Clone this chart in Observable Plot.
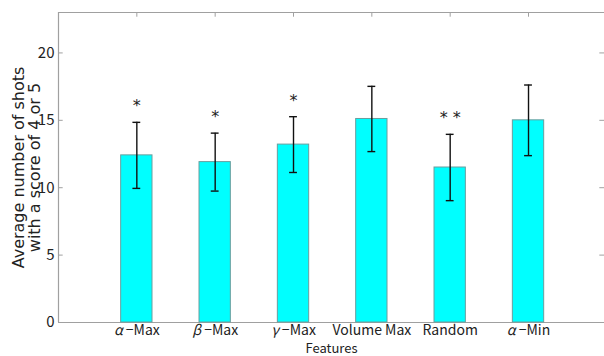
<!DOCTYPE html>
<html>
<head>
<meta charset="utf-8">
<script src="https://cdn.jsdelivr.net/npm/d3@7"></script>
<script src="https://cdn.jsdelivr.net/npm/@observablehq/plot@0.6"></script>
<style>
html, body { margin: 0; padding: 0; overflow: hidden; background: #fff; }
</style>
</head>
<body>
<div id="chart"></div>
<script>
const categories = ["α −Max", "β −Max", "γ −Max", "Volume Max", "Random", "α −Min"];
const means = [12.4, 11.9, 13.2, 15.1, 11.5, 15.0];
const errors = [2.45, 2.15, 2.07, 2.42, 2.46, 2.62];
const significance = ["*", "*", "*", "", "* *", ""];
const yTicks = [0, 5, 10, 15, 20];
const yLabelLines = ["Average number of shots", "with a score of 4 or 5"];
const xLabel = "Features";

const data = categories.map((c, k) => ({
  i: k + 1, cat: c, mean: means[k], err: errors[k], sig: significance[k]
}));

const font = "'Noto Sans CJK JP', 'Noto Sans', sans-serif";
const axisGray = "#a0a0a0";

const chart = Plot.plot({
  width: 604,
  height: 356,
  marginLeft: 58,
  marginRight: 0,
  marginTop: 12,
  marginBottom: 34,
  style: { fontFamily: font, fontSize: "14px", color: "#222", background: "#fff" },
  x: { type: "linear", domain: [0, 6.97] },
  y: { domain: [0, 23] },
  marks: [
    Plot.ruleY([0], { stroke: axisGray, strokeWidth: 1.2 }),
    Plot.ruleY([23], { stroke: axisGray, strokeWidth: 1.2 }),
    Plot.ruleX([0], { stroke: axisGray, strokeWidth: 1.2 }),
    Plot.ruleY(yTicks, { x1: 0, x2: 0.06, stroke: axisGray }),
    Plot.ruleY(yTicks, { x1: 6.91, x2: 6.97, stroke: axisGray }),
    Plot.ruleX(data, { x: "i", y1: 23, y2: 22.65, stroke: axisGray }),
    Plot.rect(data, {
      x1: d => d.i - 0.2, x2: d => d.i + 0.2, y1: 0, y2: "mean",
      fill: "#00ffff", stroke: "#6a9e9e", strokeWidth: 1
    }),
    Plot.ruleX(data, { x: "i", y1: d => d.mean - d.err, y2: d => d.mean + d.err, stroke: "#111", strokeWidth: 1.4 }),
    Plot.ruleY(data, { y: d => d.mean + d.err, x1: d => d.i - 0.05, x2: d => d.i + 0.05, stroke: "#111", strokeWidth: 1.4 }),
    Plot.ruleY(data, { y: d => d.mean - d.err, x1: d => d.i - 0.05, x2: d => d.i + 0.05, stroke: "#111", strokeWidth: 1.4 }),
    Plot.text(data.filter(d => d.sig), {
      x: "i", y: d => d.mean + d.err, text: "sig", dy: -16, fontSize: 16,
      fontFamily: "DejaVu Sans", fill: "#222"
    }),
    Plot.axisY({ ticks: yTicks, tickSize: 0, tickPadding: 4, fontSize: 15, label: null }),
    Plot.text([yLabelLines[0]], {
      frameAnchor: "left", textAnchor: "middle", lineAnchor: "middle", rotate: -90, dx: -40,
      fontSize: 16, fontFamily: "DejaVu Sans", fill: "#222"
    }),
    Plot.text([yLabelLines[1]], {
      frameAnchor: "left", textAnchor: "middle", lineAnchor: "middle", rotate: -90, dx: -24,
      fontSize: 16, fontFamily: "DejaVu Sans", fill: "#222"
    }),
    Plot.axisX({
      ticks: data.map(d => d.i), tickFormat: i => categories[i - 1],
      tickSize: 0, tickPadding: 3, fontSize: 14, label: null
    }),
    Plot.text([xLabel], {
      frameAnchor: "bottom", lineAnchor: "middle", dy: 26, fontSize: 13, fill: "#222"
    })
  ]
});

// italicise the Greek letters in the x tick labels
chart.querySelectorAll("text").forEach(t => {
  const s = t.textContent;
  if (/^[αβγ]/.test(s) && t.children.length === 0) {
    t.textContent = "";
    const g = document.createElementNS("http://www.w3.org/2000/svg", "tspan");
    g.setAttribute("font-style", "italic");
    g.textContent = s[0];
    const r = document.createElementNS("http://www.w3.org/2000/svg", "tspan");
    r.textContent = s.slice(1);
    t.appendChild(g); t.appendChild(r);
  }
});

document.getElementById("chart").appendChild(chart);
</script>
</body>
</html>
